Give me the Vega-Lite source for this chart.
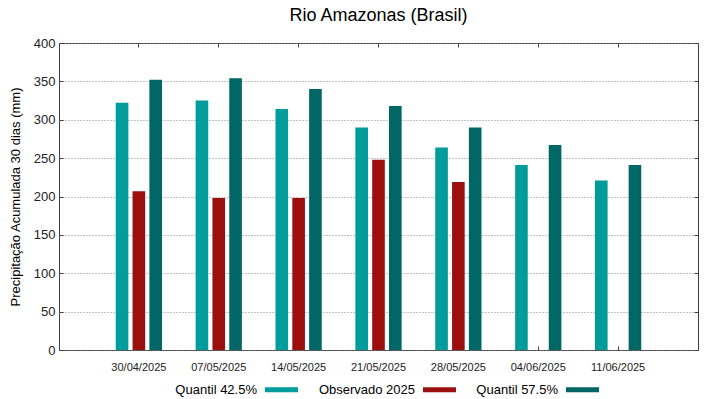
{
  "$schema": "https://vega.github.io/schema/vega-lite/v6.json",
  "width": 639,
  "height": 307,
  "padding": {"left": 9, "top": 7, "right": 20, "bottom": 5},
  "background": "white",
  "title": {"text": "Rio Amazonas (Brasil)", "fontSize": 18, "fontWeight": "normal", "font": "Liberation Sans", "color": "#000000", "frame": "group", "anchor": "middle", "offset": 12},
  "config": {
    "view": {"stroke": "#404040", "strokeWidth": 1},
    "font": "Liberation Sans",
    "axis": {"domain": false, "tickColor": "#404040", "labelColor": "#222222", "titleColor": "#000000", "labelFont": "Liberation Sans", "titleFont": "Liberation Sans"}
  },
  "data": {
    "values": [
      {"date": "30/04/2025", "serie": "Quantil 42.5%", "value": 322},
      {"date": "30/04/2025", "serie": "Observado 2025", "value": 207},
      {"date": "30/04/2025", "serie": "Quantil 57.5%", "value": 352},
      {"date": "07/05/2025", "serie": "Quantil 42.5%", "value": 325},
      {"date": "07/05/2025", "serie": "Observado 2025", "value": 198},
      {"date": "07/05/2025", "serie": "Quantil 57.5%", "value": 354},
      {"date": "14/05/2025", "serie": "Quantil 42.5%", "value": 314},
      {"date": "14/05/2025", "serie": "Observado 2025", "value": 198},
      {"date": "14/05/2025", "serie": "Quantil 57.5%", "value": 340},
      {"date": "21/05/2025", "serie": "Quantil 42.5%", "value": 290},
      {"date": "21/05/2025", "serie": "Observado 2025", "value": 248},
      {"date": "21/05/2025", "serie": "Quantil 57.5%", "value": 318},
      {"date": "28/05/2025", "serie": "Quantil 42.5%", "value": 264},
      {"date": "28/05/2025", "serie": "Observado 2025", "value": 219},
      {"date": "28/05/2025", "serie": "Quantil 57.5%", "value": 290},
      {"date": "04/06/2025", "serie": "Quantil 42.5%", "value": 241},
      {"date": "04/06/2025", "serie": "Quantil 57.5%", "value": 267},
      {"date": "11/06/2025", "serie": "Quantil 42.5%", "value": 221},
      {"date": "11/06/2025", "serie": "Quantil 57.5%", "value": 241}
    ]
  },
  "layer": [
    {
      "mark": {"type": "bar"},
      "encoding": {
        "x": {"field": "date", "type": "nominal", "sort": null,
              "scale": {"paddingInner": 0, "paddingOuter": 0.5},
              "axis": {"orient": "bottom", "title": null, "labelAngle": 0, "labelFontSize": 11, "labelDx": 7, "tickSize": -4, "labelPadding": 15, "grid": false}},
        "xOffset": {"field": "serie", "type": "nominal",
              "scale": {"domain": ["Quantil 42.5%", "Observado 2025", "Quantil 57.5%"], "paddingInner": 0.25, "paddingOuter": 1.125}},
        "y": {"field": "value", "type": "quantitative",
              "scale": {"domain": [0, 400], "nice": false},
              "axis": {"orient": "left", "title": "Precipitação Acumulada 30 dias (mm)", "values": [0, 50, 100, 150, 200, 250, 300, 350, 400], "grid": true, "gridDash": [1, 2], "gridColor": "#888888", "tickSize": -4, "labelPadding": 8, "labelFontSize": 13, "titleFontSize": 13, "titleFontWeight": "normal", "titlePadding": 11}},
        "color": {"field": "serie", "type": "nominal",
              "scale": {"domain": ["Quantil 42.5%", "Observado 2025", "Quantil 57.5%"], "range": ["#009b9b", "#9b0f0f", "#006666"]},
              "legend": {"orient": "none", "legendX": 206, "legendY": 330, "direction": "horizontal", "title": null, "labelFontSize": 13, "labelColor": "#000000", "symbolType": "M-1,-0.15H1V0.15H-1Z", "symbolSize": 1089, "symbolStrokeWidth": 0, "labelAlign": "right", "labelOffset": -41, "columnPadding": 20}}
      }
    },
    {
      "mark": {"type": "bar", "opacity": 0},
      "encoding": {
        "x": {"field": "date", "type": "nominal", "sort": null,
              "axis": {"orient": "top", "title": null, "labels": false, "tickSize": -4, "grid": false}},
        "xOffset": {"field": "serie", "type": "nominal"},
        "y": {"field": "value", "type": "quantitative",
              "axis": {"orient": "right", "title": null, "labels": false, "values": [0, 50, 100, 150, 200, 250, 300, 350, 400], "tickSize": -4, "grid": false}}
      }
    }
  ]
}
